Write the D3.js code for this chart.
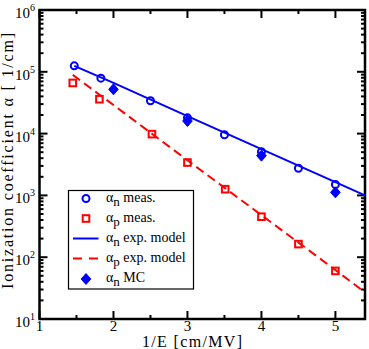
<!DOCTYPE html>
<html><head><meta charset="utf-8">
<script src="https://cdn.jsdelivr.net/npm/d3@7"></script>
<style>body{margin:0;background:#fff}svg{display:block}text{font-family:"Liberation Serif","Times New Roman",Times,serif;fill:#000}</style>
</head><body>
<script>
// measured alpha_n (blue open circles)
const xN = [1.47, 1.83, 2.5, 3.0, 3.5, 4.0, 4.5, 5.0];
const alphaN = [1.25e5, 7.9e4, 3.4e4, 1.8e4, 9.6e3, 5.1e3, 2.75e3, 1.5e3];
// measured alpha_p (red open squares)
const xP = [1.45, 1.81, 2.52, 3.0, 3.51, 4.0, 4.5, 5.0];
const alphaP = [6.6e4, 3.6e4, 9.8e3, 3.4e3, 1.26e3, 452, 163, 60];
// alpha_n MC (blue diamonds)
const xMC = [2, 3, 4, 5];
const alphaMC = [5.2e4, 1.6e4, 4.4e3, 1.12e3];
// exp. model lines
const xModelN = [1.47, 2, 3, 4, 5, 5.4];
const modelN = [1.25e5, 6.6e4, 1.92e4, 5.6e3, 1.64e3, 1.0e3];
const xModelP = [1.45, 2, 3, 4, 5, 5.4];
const modelP = [8.9e4, 2.9e4, 3.7e3, 480, 62, 27];
const xTicks = [1, 2, 3, 4, 5];
const yExps = [1, 2, 3, 4, 5, 6];
const legendLabels = [["n", " meas."], ["p", " meas."], ["n", " exp. model"], ["p", " exp. model"], ["n", " MC"]];

const W = 369, H = 349;
const L = 39.5, R = 365, T = 10, B = 319;
const svg = d3.select("body").append("svg").attr("width", W).attr("height", H);
const x = d3.scaleLinear().domain([1, 5.4]).range([L, R]);
const y = d3.scaleLog().domain([10, 1e6]).range([B, T]);
const blue = "#0000ff", red = "#ff0000";

// ticks
const g = svg.append("g").attr("stroke", "#000").attr("stroke-width", 2);
const xMinor = d3.range(1.5, 5.4, 1);
const yMinor = [];
for (let e = 1; e < 6; e++) for (let k = 2; k <= 9; k++) yMinor.push(k * Math.pow(10, e));
xTicks.forEach(v => {
  g.append("line").attr("x1", x(v)).attr("x2", x(v)).attr("y1", B).attr("y2", B - 8);
  g.append("line").attr("x1", x(v)).attr("x2", x(v)).attr("y1", T).attr("y2", T + 8);
});
xMinor.forEach(v => {
  g.append("line").attr("x1", x(v)).attr("x2", x(v)).attr("y1", B).attr("y2", B - 4);
  g.append("line").attr("x1", x(v)).attr("x2", x(v)).attr("y1", T).attr("y2", T + 4);
});
yExps.forEach(e => {
  const v = Math.pow(10, e);
  g.append("line").attr("x1", L).attr("x2", L + 8).attr("y1", y(v)).attr("y2", y(v));
  g.append("line").attr("x1", R).attr("x2", R - 8).attr("y1", y(v)).attr("y2", y(v));
});
yMinor.forEach(v => {
  g.append("line").attr("x1", L).attr("x2", L + 4).attr("y1", y(v)).attr("y2", y(v));
  g.append("line").attr("x1", R).attr("x2", R - 4).attr("y1", y(v)).attr("y2", y(v));
});
svg.append("rect").attr("x", L).attr("y", T).attr("width", R - L).attr("height", B - T)
  .attr("fill", "none").attr("stroke", "#000").attr("stroke-width", 2.5);

// tick labels
xTicks.forEach(v => {
  svg.append("text").attr("x", x(v)).attr("y", 330.5).attr("text-anchor", "middle")
    .attr("font-size", 15).text(v);
});
yExps.forEach(e => {
  const t = svg.append("text").attr("x", 15).attr("y", y(Math.pow(10, e)) + 8).attr("font-size", 15);
  t.append("tspan").text("10");
  t.append("tspan").attr("font-size", 10).attr("dy", -7).text(e);
});
// axis titles
svg.append("text").attr("x", 192).attr("y", 346.5).attr("text-anchor", "middle")
  .attr("font-size", 16).attr("textLength", 100).attr("lengthAdjust", "spacing").text("1/E [cm/MV]");
svg.append("text").attr("transform", "translate(12.5,161) rotate(-90)").attr("text-anchor", "middle")
  .attr("font-size", 16).attr("textLength", 256).attr("lengthAdjust", "spacing")
  .text("Ionization coefficient \u03b1 [ 1/cm]");

// lines
const line = d3.line().x(d => x(d[0])).y(d => y(d[1]));
svg.append("path").datum(xModelN.map((v, i) => [v, modelN[i]])).attr("d", line)
  .attr("fill", "none").attr("stroke", blue).attr("stroke-width", 2);
svg.append("path").datum(xModelP.map((v, i) => [v, modelP[i]])).attr("d", line)
  .attr("fill", "none").attr("stroke", red).attr("stroke-width", 2).attr("stroke-dasharray", "9,5");

// markers
function circ(sel, cx, cy) { sel.append("circle").attr("cx", cx).attr("cy", cy).attr("r", 3.5).attr("fill", "none").attr("stroke", blue).attr("stroke-width", 2); }
function sq(sel, cx, cy) { sel.append("rect").attr("x", cx - 3.3).attr("y", cy - 3.3).attr("width", 6.6).attr("height", 6.6).attr("fill", "none").attr("stroke", red).attr("stroke-width", 2); }
function dia(sel, cx, cy) { sel.append("path").attr("d", "M0,-5.5L4.8,0L0,5.5L-4.8,0Z").attr("transform", `translate(${cx},${cy})`).attr("fill", blue).attr("stroke", blue).attr("stroke-width", 1); }
xN.forEach((v, i) => circ(svg, x(v), y(alphaN[i])));
xP.forEach((v, i) => sq(svg, x(v), y(alphaP[i])));
xMC.forEach((v, i) => dia(svg, x(v), y(alphaMC[i])));

// legend
svg.append("rect").attr("x", 68.5).attr("y", 190.5).attr("width", 125).attr("height", 98.5)
  .attr("fill", "#fff").attr("stroke", "#000").attr("stroke-width", 1.2);
const ly = [198.5, 218.5, 238.5, 258.5, 279];
circ(svg, 86, ly[0]);
sq(svg, 86, ly[1]);
svg.append("line").attr("x1", 73).attr("x2", 98.5).attr("y1", ly[2]).attr("y2", ly[2]).attr("stroke", blue).attr("stroke-width", 2);
svg.append("line").attr("x1", 73).attr("x2", 98.5).attr("y1", ly[3]).attr("y2", ly[3]).attr("stroke", red).attr("stroke-width", 2).attr("stroke-dasharray", "9,7");
dia(svg, 86, ly[4]);
legendLabels.forEach((lab, i) => {
  const t = svg.append("text").attr("x", 106).attr("y", ly[i] + 3).attr("font-size", 14);
  t.append("tspan").text("\u03b1");
  t.append("tspan").attr("font-size", 13).attr("dy", 4).text(lab[0]);
  t.append("tspan").attr("dy", -4).text(lab[1]);
});
</script>
</body></html>
